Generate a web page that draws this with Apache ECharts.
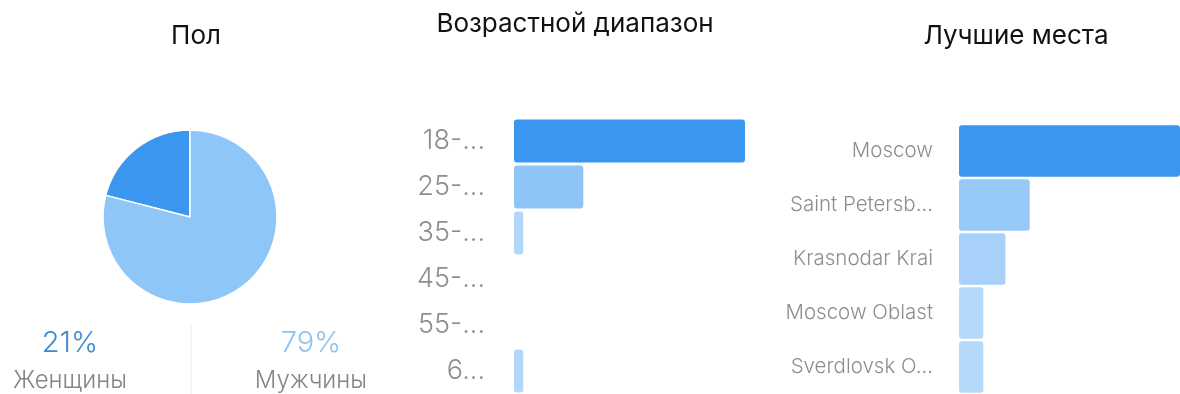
<!DOCTYPE html>
<html>
<head>
<meta charset="utf-8">
<script src="https://cdn.jsdelivr.net/npm/echarts@6/dist/echarts.min.js"></script>
<style>
html,body{margin:0;padding:0;background:#fff;}
#c{width:1180px;height:394px;}
</style>
</head>
<body>
<div id="c"></div>
<script>
// ---- data ----
var chartTitles = ['Пол', 'Возрастной диапазон', 'Лучшие места'];
var genderLabels = ['Женщины', 'Мужчины'];
var genderValues = [21, 79];
var ageCategories = ['18-...', '25-...', '35-...', '45-...', '55-...', '6...'];
var ageValues = [100, 30, 4, 0, 0, 4];
var placeCategories = ['Moscow', 'Saint Petersb...', 'Krasnodar Krai', 'Moscow Oblast', 'Sverdlovsk O...'];
var placeValues = [100, 32, 21, 11, 11];

// ---- styles ----
var FONT = 'Inter, Roboto, "Noto Sans", sans-serif';
var DARK = '#3a96ee';
var genderColors = [DARK, '#8fc6f8'];
var genderTextColors = ['#3d8bd3', '#8ec3ef'];
var ageColors = [DARK, '#8fc4f7', '#b3d7fa', '#b3d7fa', '#b3d7fa', '#b3d7fa'];
var placeColors = [DARK, '#96c9f8', '#a8d1f9', '#b5d9fb', '#b5d9fb'];

var chart = echarts.init(document.getElementById('c'), null, {renderer: 'canvas'});

function coloredData(vals, colors) {
  return vals.map(function (v, i) {
    return {value: v, itemStyle: {color: colors[i]}};
  });
}

var graphicTexts = [];
var gx = [70, 311];
genderLabels.forEach(function (lab, i) {
  graphicTexts.push({
    type: 'text', x: gx[i], y: 343,
    style: {text: genderValues[i] + '%', fill: genderTextColors[i], font: '300 29px ' + FONT, align: 'center', verticalAlign: 'middle'}
  });
  graphicTexts.push({
    type: 'text', x: gx[i], y: 381,
    style: {text: lab, fill: '#858585', font: '300 24px ' + FONT, align: 'center', verticalAlign: 'middle'}
  });
});
graphicTexts.push({
  type: 'line', shape: {x1: 191, y1: 325, x2: 191, y2: 394},
  style: {stroke: '#ececec', lineWidth: 1}
});

var titleStyle = {fontFamily: FONT, fontSize: 26, fontWeight: 400, color: '#111'};

var option = {
  backgroundColor: '#fff',
  animation: false,
  title: [
    {text: chartTitles[0], left: 191, top: 18, textAlign: 'center', textStyle: titleStyle},
    {text: chartTitles[1], left: 570, top: 6, textAlign: 'center', textStyle: titleStyle},
    {text: chartTitles[2], left: 1011, top: 18, textAlign: 'center', textStyle: titleStyle}
  ],
  graphic: graphicTexts,
  grid: [
    {left: 514, width: 231, top: 118, height: 282, containLabel: false},
    {left: 959, width: 221, top: 124, height: 273, containLabel: false}
  ],
  xAxis: [
    {gridIndex: 0, type: 'value', min: 0, max: 100, show: false},
    {gridIndex: 1, type: 'value', min: 0, max: 100, show: false}
  ],
  yAxis: [
    {
      gridIndex: 0, type: 'category', inverse: true, data: ageCategories,
      axisLine: {show: false}, axisTick: {show: false}, splitLine: {show: false},
      axisLabel: {margin: 29, fontFamily: FONT, fontSize: 27, fontWeight: 300, color: '#8e8e8e'}
    },
    {
      gridIndex: 1, type: 'category', inverse: true, data: placeCategories,
      axisLine: {show: false}, axisTick: {show: false}, splitLine: {show: false},
      axisLabel: {margin: 26, fontFamily: FONT, fontSize: 20.5, fontWeight: 300, color: '#8e8e8e'}
    }
  ],
  series: [
    {
      type: 'pie',
      center: [190, 217],
      radius: 87,
      startAngle: 90,
      clockwise: false,
      label: {show: false},
      labelLine: {show: false},
      itemStyle: {borderColor: '#fff', borderWidth: 1.5},
      data: genderLabels.map(function (l, i) {
        return {name: l, value: genderValues[i], itemStyle: {color: genderColors[i]}};
      })
    },
    {
      type: 'bar', xAxisIndex: 0, yAxisIndex: 0,
      barCategoryGap: '7%',
      itemStyle: {borderRadius: 3},
      data: coloredData(ageValues, ageColors)
    },
    {
      type: 'bar', xAxisIndex: 1, yAxisIndex: 1,
      barCategoryGap: '5%',
      itemStyle: {borderRadius: 3},
      data: coloredData(placeValues, placeColors)
    }
  ]
};
chart.setOption(option);
</script>
</body>
</html>
